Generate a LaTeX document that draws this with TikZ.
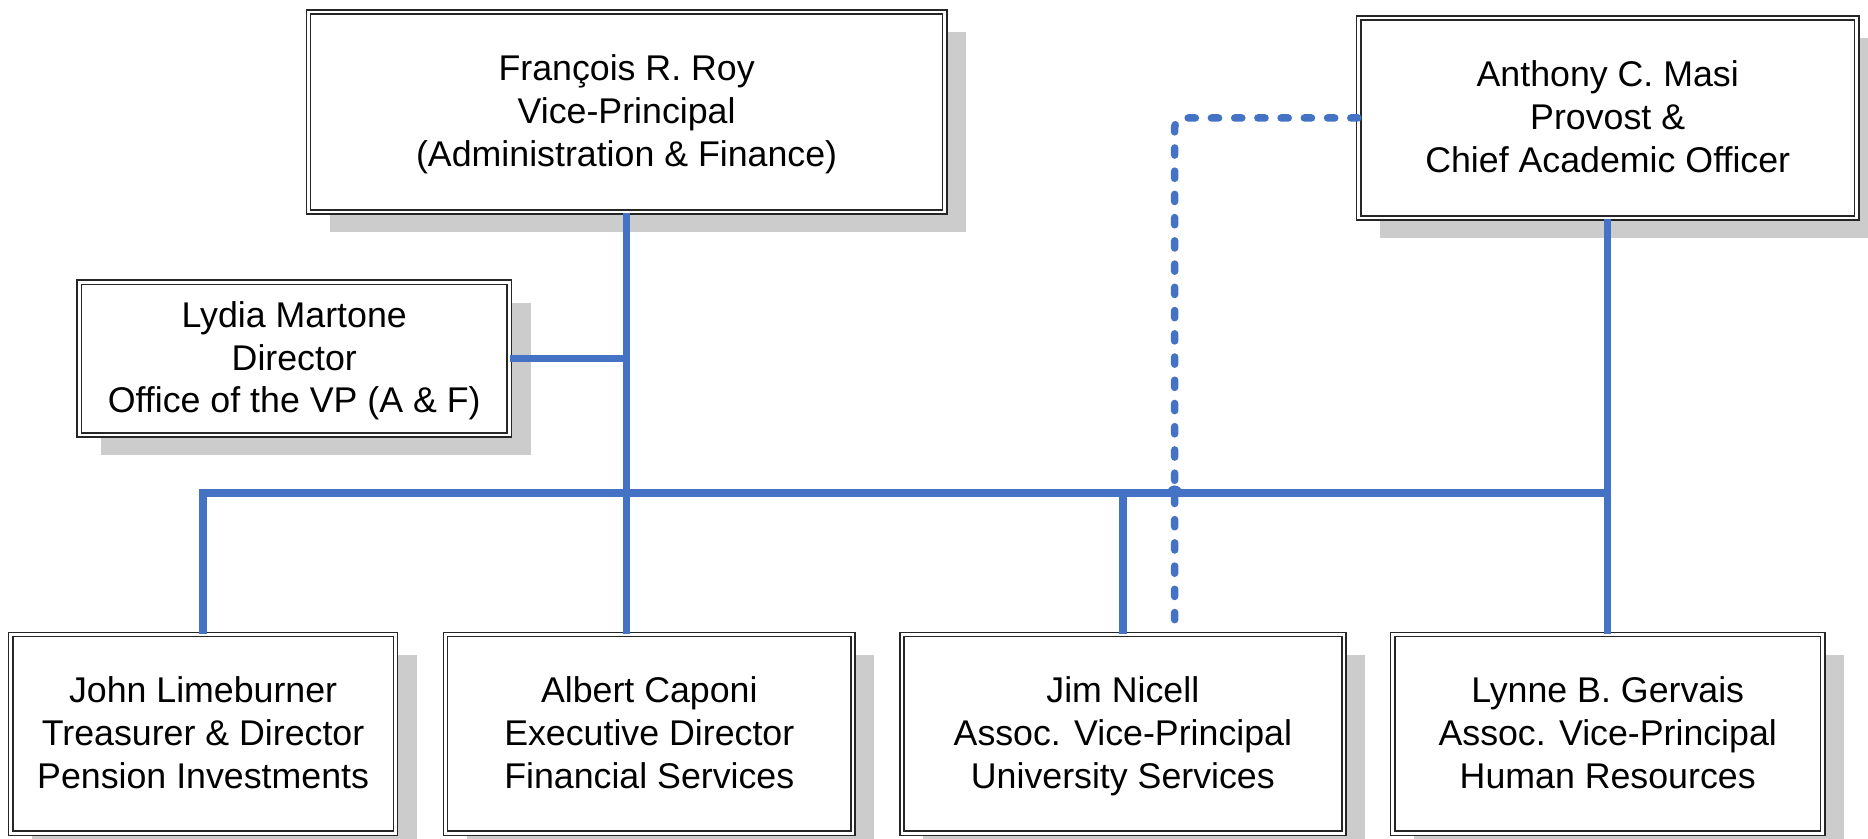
\documentclass[tikz,border=0pt]{standalone}
\usepackage{fontspec}
\setmainfont{Liberation Sans}
\usetikzlibrary{shadows}
\definecolor{conn}{RGB}{68,114,196}
\definecolor{shade}{RGB}{204,204,204}
\newcommand{\topstrut}{\rule{0pt}{30pt}}
\tikzset{
 box/.style={draw=black!85, double=white, double distance=2.2pt, line width=1.3pt, fill=white,
   inner sep=0pt, align=center, font=\fontsize{30}{36}\selectfont,
   drop shadow={shadow xshift=18pt, shadow yshift=-17pt, fill=shade, opacity=1}},
 link/.style={draw=conn, line width=6.3pt},
 dotlink/.style={link, line cap=round, dash pattern=on 6pt off 13.5pt, rounded corners=8pt}
}
\begin{document}
\begin{tikzpicture}[x=1pt,y=-1pt]
\useasboundingbox (0,0) rectangle (1568,704);
\clip (0,0) rectangle (1568,704);
\fill[white] (0,0) rectangle (1568,704);
\coordinate (bus) at (526,414);
\coordinate (dk) at (986,99);
\node[box, minimum width=534pt, minimum height=168pt] (roy) at (526,94)
  {\topstrut François R. Roy\\Vice-Principal\\(Administration \& Finance)\strut};
\node[box, minimum width=418pt, minimum height=168pt] (masi) at (1349.5,99)
  {\topstrut Anthony C. Masi\\Provost \&\\Chief Academic Officer\strut};
\node[box, minimum width=361pt, minimum height=128pt] (lydia) at (247,301)
  {\topstrut Lydia Martone\\Director\\Office of the VP (A \& F)\strut};
\node[box, minimum width=323pt, minimum height=167pt] (lime) at (170.5,616)
  {\topstrut John Limeburner\\Treasurer \& Director\\Pension Investments\strut};
\node[box, minimum width=342pt, minimum height=167pt] (capo) at (545,616)
  {\topstrut Albert Caponi\\Executive Director\\Financial Services\strut};
\node[box, minimum width=371pt, minimum height=167pt] (nicell) at (942.5,616)
  {\topstrut Jim Nicell\\Assoc. Vice-Principal\\University Services\strut};
\node[box, minimum width=361pt, minimum height=167pt] (gerv) at (1349.5,616)
  {\topstrut Lynne B. Gervais\\Assoc. Vice-Principal\\Human Resources\strut};
% solid links
\draw[link] (roy.south) -- (roy.south |- capo.north);
\draw[link] (lydia.east) -- (lydia.east -| roy.south);
\draw[link] (lime.north) |- (bus -| gerv.north);
\draw[link] (masi.south) -- (gerv.north);
\draw[link] (bus -| nicell.north) -- (nicell.north);
% dotted link with a small line jump over the bus
\draw[dotlink] (masi.west |- dk) -- (dk) -- (dk |- nicell.north);
\coordinate (cross) at (dk |- bus);
\draw[conn, line width=3pt] (cross) ++(-5,0) arc (180:360:5);
\end{tikzpicture}
\end{document}
